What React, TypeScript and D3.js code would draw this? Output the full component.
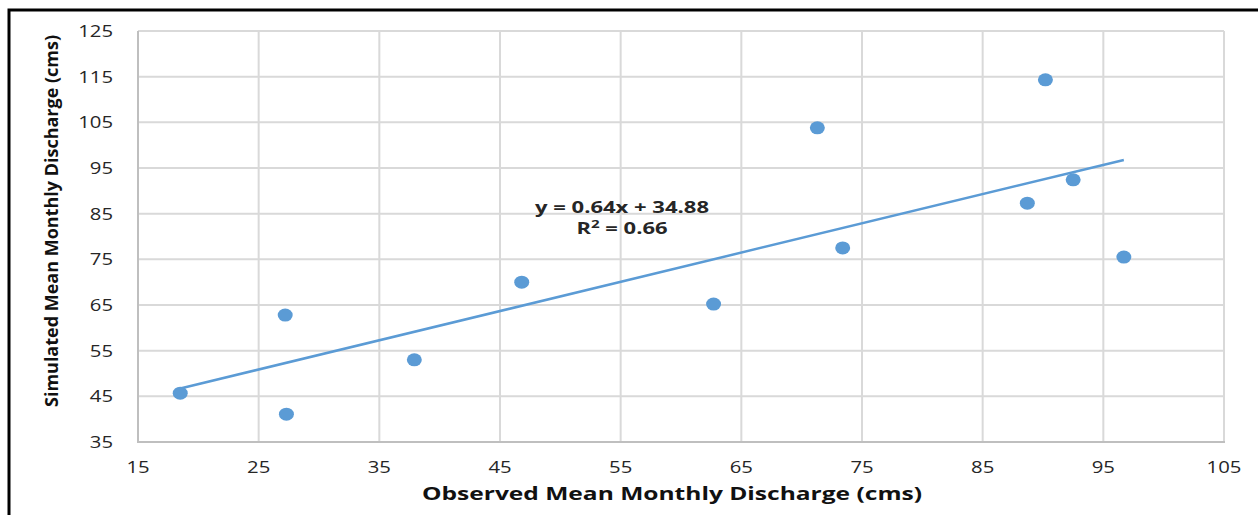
import React, { useEffect, useRef } from 'react';
import { select, scaleLinear, range } from 'd3';

const observed = [18.5, 27.2, 27.3, 37.9, 46.8, 62.7, 71.3, 73.4, 88.7, 90.2, 92.5, 96.7];
const simulated = [45.7, 62.8, 41.1, 53.0, 70.0, 65.2, 103.8, 77.5, 87.3, 114.3, 92.4, 75.5];
const xTicks = range(15, 106, 10);
const yTicks = range(35, 126, 10);
const slope = 0.64;
const intercept = 34.88;
const equationLabel = 'y = 0.64x + 34.88';
const r2Label = '0.66';

const W = 1258;
const H = 515;

export default function App() {
  const svgRef = useRef<SVGSVGElement>(null);

  useEffect(() => {
    if (!svgRef.current) return;
    const svg = select(svgRef.current);
    svg.selectAll('*').remove();

    const plot = { left: 138, top: 31, right: 1224, bottom: 442 };
    const x = scaleLinear().domain([15, 105]).range([plot.left, plot.right]);
    const y = scaleLinear().domain([35, 125]).range([plot.bottom, plot.top]);
    const font = "'Open Sans', sans-serif";
    const digitW = 11.6; // stretched look of the original

    svg.append('rect').attr('width', W).attr('height', H).attr('fill', '#fff');
    // outer frame (only top/left visible)
    svg.append('rect')
      .attr('x', 9).attr('y', 10).attr('width', W + 20).attr('height', H + 20)
      .attr('fill', 'none').attr('stroke', '#000').attr('stroke-width', 3);

    const grid = svg.append('g');
    grid.selectAll('.gx').data(xTicks).enter().append('line')
      .attr('x1', d => x(d)).attr('x2', d => x(d))
      .attr('y1', plot.top).attr('y2', plot.bottom)
      .attr('stroke', '#d9d9d9').attr('stroke-width', 2);
    grid.selectAll('.gy').data(yTicks).enter().append('line')
      .attr('x1', plot.left).attr('x2', plot.right)
      .attr('y1', d => y(d)).attr('y2', d => y(d))
      .attr('stroke', '#d9d9d9').attr('stroke-width', 2);

    // axis lines
    svg.append('line').attr('x1', plot.left).attr('x2', plot.left)
      .attr('y1', plot.top).attr('y2', plot.bottom + 1)
      .attr('stroke', '#bfbfbf').attr('stroke-width', 2);
    svg.append('line').attr('x1', plot.left).attr('x2', plot.right + 1)
      .attr('y1', plot.bottom).attr('y2', plot.bottom)
      .attr('stroke', '#bfbfbf').attr('stroke-width', 2);

    svg.selectAll('.xt').data(xTicks).enter().append('text')
      .attr('x', d => x(d)).attr('y', 473)
      .attr('text-anchor', 'middle')
      .attr('font-family', font).attr('font-size', 16).attr('fill', '#262626')
      .attr('textLength', d => String(d).length * digitW).attr('lengthAdjust', 'spacingAndGlyphs')
      .text(d => d);
    svg.selectAll('.yt').data(yTicks).enter().append('text')
      .attr('x', 113).attr('y', d => y(d) + 6)
      .attr('text-anchor', 'end')
      .attr('font-family', font).attr('font-size', 16).attr('fill', '#262626')
      .attr('textLength', d => String(d).length * digitW).attr('lengthAdjust', 'spacingAndGlyphs')
      .text(d => d);

    // trendline
    const x0 = Math.min(...observed);
    const x1 = Math.max(...observed);
    svg.append('line')
      .attr('x1', x(x0)).attr('y1', y(slope * x0 + intercept))
      .attr('x2', x(x1)).attr('y2', y(slope * x1 + intercept))
      .attr('stroke', '#5b9bd5').attr('stroke-width', 2.5);

    svg.selectAll('.pt').data(observed).enter().append('ellipse')
      .attr('cx', d => x(d)).attr('cy', (d, i) => y(simulated[i]))
      .attr('rx', 7.5).attr('ry', 6.5)
      .attr('fill', '#5b9bd5');

    svg.append('text')
      .attr('x', 622).attr('y', 213).attr('text-anchor', 'middle')
      .attr('font-family', font).attr('font-weight', 700).attr('font-size', 16).attr('fill', '#262626')
      .attr('textLength', 174).attr('lengthAdjust', 'spacingAndGlyphs')
      .text(equationLabel);
    const r2 = svg.append('text')
      .attr('x', 622).attr('y', 234).attr('text-anchor', 'middle')
      .attr('font-family', font).attr('font-weight', 700).attr('font-size', 16).attr('fill', '#262626')
      .attr('textLength', 91).attr('lengthAdjust', 'spacingAndGlyphs');
    r2.append('tspan').text('R');
    r2.append('tspan').attr('font-size', 11).attr('dy', -6).text('2');
    r2.append('tspan').attr('dy', 6).text(' = ' + r2Label);

    svg.append('text')
      .attr('x', 672).attr('y', 500).attr('text-anchor', 'middle')
      .attr('font-family', font).attr('font-weight', 700).attr('font-size', 17).attr('fill', '#111')
      .attr('textLength', 500).attr('lengthAdjust', 'spacingAndGlyphs')
      .text('Observed Mean Monthly Discharge (cms)');
    svg.append('text')
      .attr('transform', 'translate(58,221) rotate(-90)')
      .attr('text-anchor', 'middle')
      .attr('font-family', font).attr('font-weight', 700).attr('font-size', 17).attr('fill', '#111')
      .attr('textLength', 372).attr('lengthAdjust', 'spacingAndGlyphs')
      .text('Simulated Mean Monthly Discharge (cms)');
  }, []);

  return (
    <svg
      ref={svgRef}
      width={W}
      height={H}
      viewBox={`0 0 ${W} ${H}`}
      style={{ position: 'absolute', left: 0, top: 0, display: 'block' }}
    />
  );
}
